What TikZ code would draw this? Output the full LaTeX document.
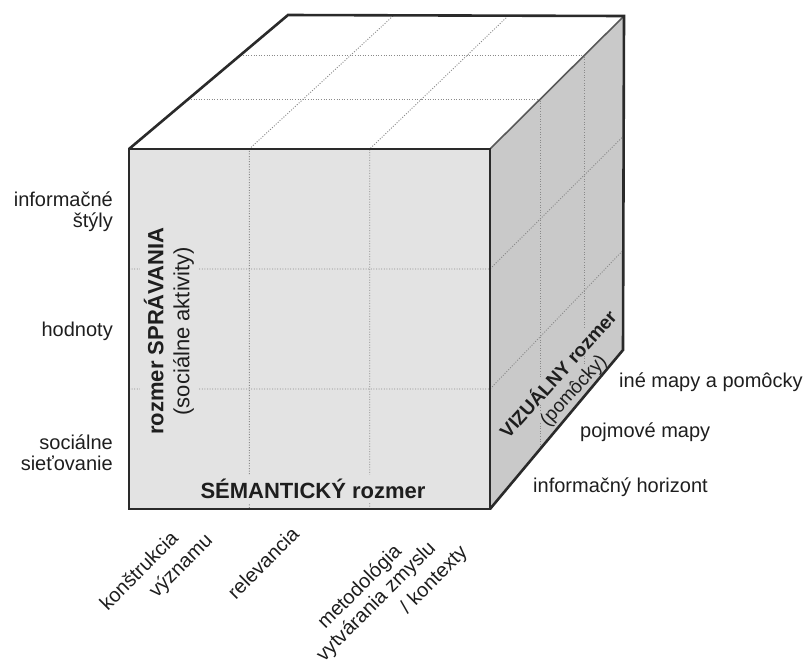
\documentclass[tikz,border=0pt]{standalone}
\usepackage{fontspec}
\setmainfont{Liberation Sans}
\definecolor{frontgray}{HTML}{E3E3E3}
\definecolor{rightgray}{HTML}{C9C9C9}
\definecolor{edgecol}{HTML}{2A2A2A}
\definecolor{gridcol}{HTML}{8A8A8A}
\definecolor{txt}{HTML}{1E1E1E}
\newcommand\labfont{\fontsize{20}{21}\selectfont}
\newcommand\bigfont{\fontsize{22}{26}\selectfont}
\newcommand\visfont{\fontsize{19}{21}\selectfont}
\tikzset{
  edge/.style={draw=edgecol, line width=2.6pt, line join=miter},
  softedge/.style={draw=gray!70!black, line width=1.6pt},
  gridline/.style={draw=gridcol, line width=0.9pt, dash pattern=on 1pt off 1.6pt},
  lab/.style={text=txt, font=\labfont, inner sep=0pt},
  blab/.style={lab, rotate=45, anchor=north east},
}
\begin{document}
\begin{tikzpicture}[x=1pt,y=-1pt]
\useasboundingbox (0,0) rectangle (803,662);
% corners
\coordinate (FTL) at (129,149);
\coordinate (FTR) at (490,149);
\coordinate (FBR) at (490,509);
\coordinate (FBL) at (129,509);
\coordinate (BTL) at (288,15);
\coordinate (BTR) at (624,16);
\coordinate (BBR) at (623,350);
% faces
\fill[white] (FTL) -- (BTL) -- (BTR) -- (FTR) -- cycle;
\fill[rightgray] (FTR) -- (BTR) -- (BBR) -- (FBR) -- cycle;
\fill[frontgray] (FTL) rectangle (FBR);
% grid coordinates
\coordinate (tA1) at (188.3,99);  \coordinate (tA2) at (540.4,99);
\coordinate (tB1) at (240.5,55);  \coordinate (tB2) at (584.7,55);
\coordinate (tC1) at (249.3,149); \coordinate (tC2) at (393,16);
\coordinate (tD1) at (369.7,149); \coordinate (tD2) at (508,16);
\coordinate (rA2) at (540.4,448.7);
\coordinate (rB2) at (584.7,395.8);
\coordinate (rC1) at (490,269); \coordinate (rC2) at (623.5,136);
\coordinate (rD1) at (490,389); \coordinate (rD2) at (623.3,250);
\coordinate (fC2) at (249.3,509);
\coordinate (fD2) at (369.7,509);
\coordinate (fA1) at (129,269);
\coordinate (fB1) at (129,389);
% grid lines
\draw[gridline] (tA1) -- (tA2) -- (rA2);
\draw[gridline] (tB1) -- (tB2) -- (rB2);
\draw[gridline] (tC2) -- (tC1) -- (fC2);
\draw[gridline] (tD2) -- (tD1) -- (fD2);
\draw[gridline] (fA1) -- (rC1) -- (rC2);
\draw[gridline] (fB1) -- (rD1) -- (rD2);
% texts on faces
\node[text=txt, fill=frontgray, inner sep=4pt, rotate=90, align=center, font=\bigfont] (sprav) at (169,331)
  {\textbf{rozmer SPRÁVANIA}\\(sociálne aktivity)};
\node[text=txt, fill=frontgray, inner sep=4pt, font=\bigfont\bfseries] (sem) at (313,489) {SÉMANTICKÝ rozmer};
\node[text=txt, fill=rightgray, inner sep=0.5pt, rotate=48, font=\visfont] (vis2) at (574,391) {(pomôcky)};
\node[text=txt, fill=rightgray, inner sep=0.5pt, rotate=48, font=\visfont\bfseries] (vis1) at (557,373) {VIZUÁLNY rozmer};
% edges
\draw[softedge] (FTR) -- (BTR);
\draw[edge] (FTL) -- (BTL) -- (BTR) -- (BBR) -- (FBR);
\draw[edge] (FTL) rectangle (FBR);
% left labels
\node[lab, anchor=east, align=right] (inf) at (113,212) {informačné\\štýly};
\node[lab, anchor=east, align=right] (hod) at (113,331) {hodnoty};
\node[lab, anchor=east, align=right] (soc) at (113,453) {sociálne\\sieťovanie};
% right labels
\node[lab, anchor=west] (ine) at (619,382) {iné mapy a pomôcky};
\node[lab, anchor=west] (poj) at (580,432) {pojmové mapy};
\node[lab, anchor=west] (hor) at (533,487) {informačný horizont};
% bottom labels
\node[blab] (k1) at (169,529) {konštrukcia};
\node[blab] (k2) at (203,531) {významu};
\node[blab] (rel) at (290,525) {relevancia};
\node[blab] (m1) at (392,542) {metodológia};
\node[blab] (m2) at (426,539) {vytvárania zmyslu};
\node[blab] (m3) at (458,543) {/ kontexty};
\end{tikzpicture}
\end{document}
